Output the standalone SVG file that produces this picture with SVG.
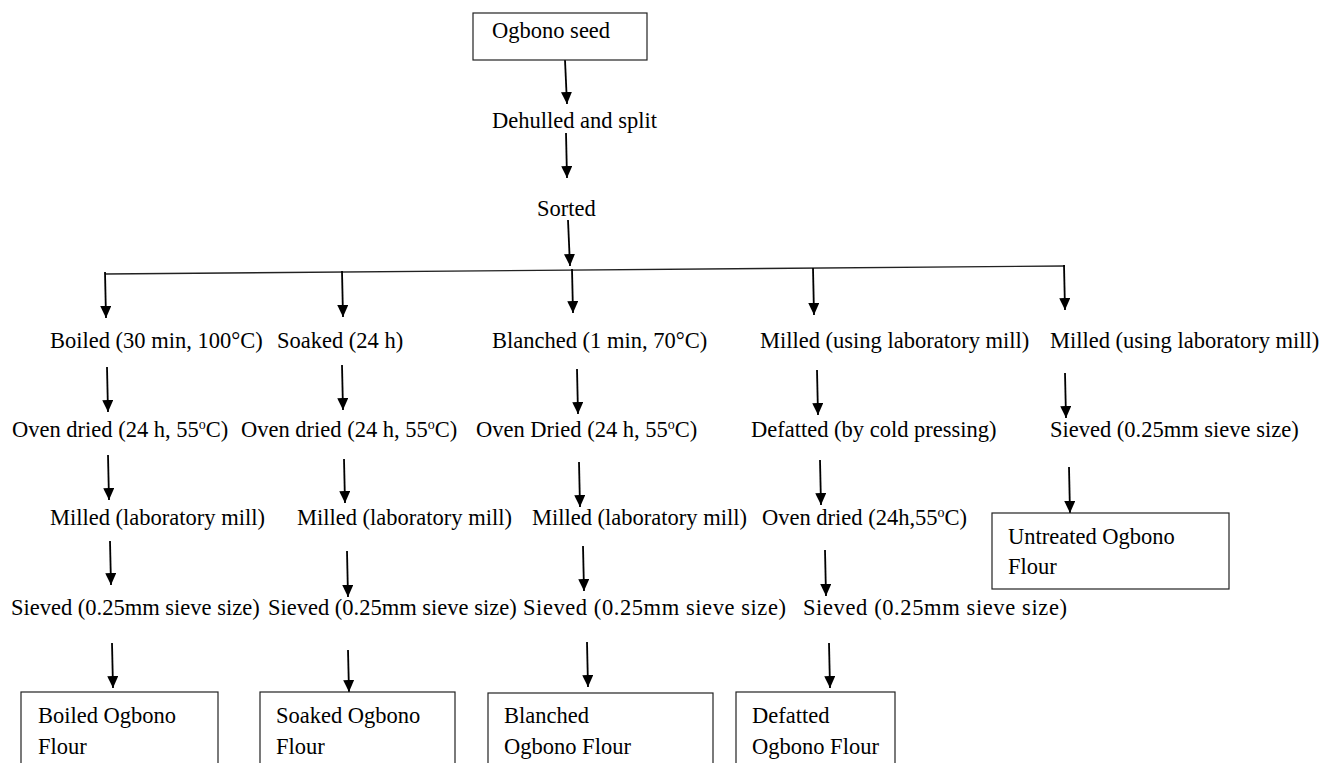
<svg xmlns="http://www.w3.org/2000/svg" width="1325" height="763" viewBox="0 0 1325 763">
<style>
text{font-family:"Liberation Serif","Times New Roman",serif;font-size:22.5px;fill:#000}
.sup{font-size:14px}
.box{fill:#fff;stroke:#222;stroke-width:1.2}
.arr{stroke:#000;stroke-width:1.8;fill:none;marker-end:url(#ah)}
.bus{stroke:#222;stroke-width:1.3;fill:none}
</style>
<defs>
<marker id="ah" markerUnits="userSpaceOnUse" markerWidth="12" markerHeight="11" viewBox="0 0 12 11" refX="12" refY="5.5" orient="auto">
<path d="M0,0 L12,5.5 L0,11 Z" fill="#000"/>
</marker>
</defs>
<rect width="1325" height="763" fill="#fff"/>

<g id="connectors">
<line class="arr" x1="565" y1="60" x2="567" y2="104"/>
<line class="arr" x1="566" y1="133" x2="567" y2="178"/>
<line class="arr" x1="568" y1="220" x2="570" y2="266"/>
<line class="bus" x1="105" y1="274" x2="1065" y2="266"/>
<line class="arr" x1="105" y1="272" x2="106" y2="318"/>
<line class="arr" x1="342" y1="271" x2="343" y2="317"/>
<line class="arr" x1="572" y1="269" x2="573" y2="313"/>
<line class="arr" x1="813" y1="268" x2="814" y2="315"/>
<line class="arr" x1="1064" y1="265" x2="1065" y2="310"/>

<line class="arr" x1="107" y1="367" x2="108" y2="412"/>
<line class="arr" x1="342" y1="365" x2="343" y2="410"/>
<line class="arr" x1="577" y1="369" x2="578" y2="414"/>
<line class="arr" x1="817" y1="370" x2="818" y2="415"/>
<line class="arr" x1="1065" y1="373" x2="1066" y2="418"/>

<line class="arr" x1="108" y1="455" x2="109" y2="500"/>
<line class="arr" x1="344" y1="459" x2="345" y2="503"/>
<line class="arr" x1="579" y1="462" x2="580" y2="507"/>
<line class="arr" x1="820" y1="460" x2="821" y2="505"/>
<line class="arr" x1="1069" y1="467" x2="1070" y2="513"/>

<line class="arr" x1="110" y1="541" x2="111" y2="585"/>
<line class="arr" x1="347" y1="551" x2="348" y2="597"/>
<line class="arr" x1="583" y1="546" x2="584" y2="591"/>
<line class="arr" x1="825" y1="550" x2="826" y2="596"/>

<line class="arr" x1="112" y1="643" x2="113" y2="688"/>
<line class="arr" x1="348" y1="650" x2="349" y2="692"/>
<line class="arr" x1="587" y1="642" x2="588" y2="687"/>
<line class="arr" x1="829" y1="643" x2="830" y2="688"/>
</g>

<g id="n-seed"><rect class="box" x="473" y="13" width="174" height="47"/><text x="492" y="38">Ogbono seed</text></g>
<g id="n-dehulled"><text x="492" y="128">Dehulled and split</text></g>
<g id="n-sorted"><text x="537" y="216">Sorted</text></g>

<g id="n-boiled"><text x="50" y="348">Boiled (30 min, 100°C)</text></g>
<g id="n-soaked"><text x="277" y="348">Soaked (24 h)</text></g>
<g id="n-blanched"><text x="492" y="348">Blanched (1 min, 70°C)</text></g>
<g id="n-milled4"><text x="760" y="348">Milled (using laboratory mill)</text></g>
<g id="n-milled5"><text x="1050" y="348">Milled (using laboratory mill)</text></g>

<g id="n-oven1"><text x="12" y="437">Oven dried (24 h, 55<tspan class="sup" dy="-8">o</tspan><tspan dy="8">C)</tspan></text></g>
<g id="n-oven2"><text x="241" y="437">Oven dried (24 h, 55<tspan class="sup" dy="-8">o</tspan><tspan dy="8">C)</tspan></text></g>
<g id="n-oven3"><text x="476" y="437">Oven Dried (24 h, 55<tspan class="sup" dy="-8">o</tspan><tspan dy="8">C)</tspan></text></g>
<g id="n-defatted"><text x="751" y="437">Defatted (by cold pressing)</text></g>
<g id="n-sieved5"><text x="1050" y="437">Sieved (0.25mm sieve size)</text></g>

<g id="n-mill1"><text x="50" y="525">Milled (laboratory mill)</text></g>
<g id="n-mill2"><text x="297" y="525">Milled (laboratory mill)</text></g>
<g id="n-mill3"><text x="532" y="525">Milled (laboratory mill)</text></g>
<g id="n-oven4"><text x="762" y="525">Oven dried (24h,55<tspan class="sup" dy="-8">o</tspan><tspan dy="8">C)</tspan></text></g>
<g id="n-untreated"><rect class="box" x="992" y="513" width="237" height="76"/><text x="1008" y="544">Untreated Ogbono</text><text x="1008" y="574">Flour</text></g>

<g id="n-sieved1"><text x="11" y="615">Sieved (0.25mm sieve size)</text></g>
<g id="n-sieved2"><text x="268" y="615">Sieved (0.25mm sieve size)</text></g>
<g id="n-sieved3"><text x="523" y="615" textLength="263" lengthAdjust="spacing">Sieved (0.25mm sieve size)</text></g>
<g id="n-sieved4"><text x="803" y="615" textLength="264" lengthAdjust="spacing">Sieved (0.25mm sieve size)</text></g>

<g id="n-boiledflour"><rect class="box" x="21" y="692" width="197" height="90"/><text x="38" y="723">Boiled Ogbono</text><text x="38" y="754">Flour</text></g>
<g id="n-soakedflour"><rect class="box" x="260" y="692" width="195" height="90"/><text x="276" y="723">Soaked Ogbono</text><text x="276" y="754">Flour</text></g>
<g id="n-blanchedflour"><rect class="box" x="488" y="693" width="225" height="90"/><text x="504" y="723">Blanched</text><text x="504" y="754">Ogbono Flour</text></g>
<g id="n-defattedflour"><rect class="box" x="736" y="692" width="159" height="90"/><text x="752" y="723">Defatted</text><text x="752" y="754">Ogbono Flour</text></g>
</svg>
